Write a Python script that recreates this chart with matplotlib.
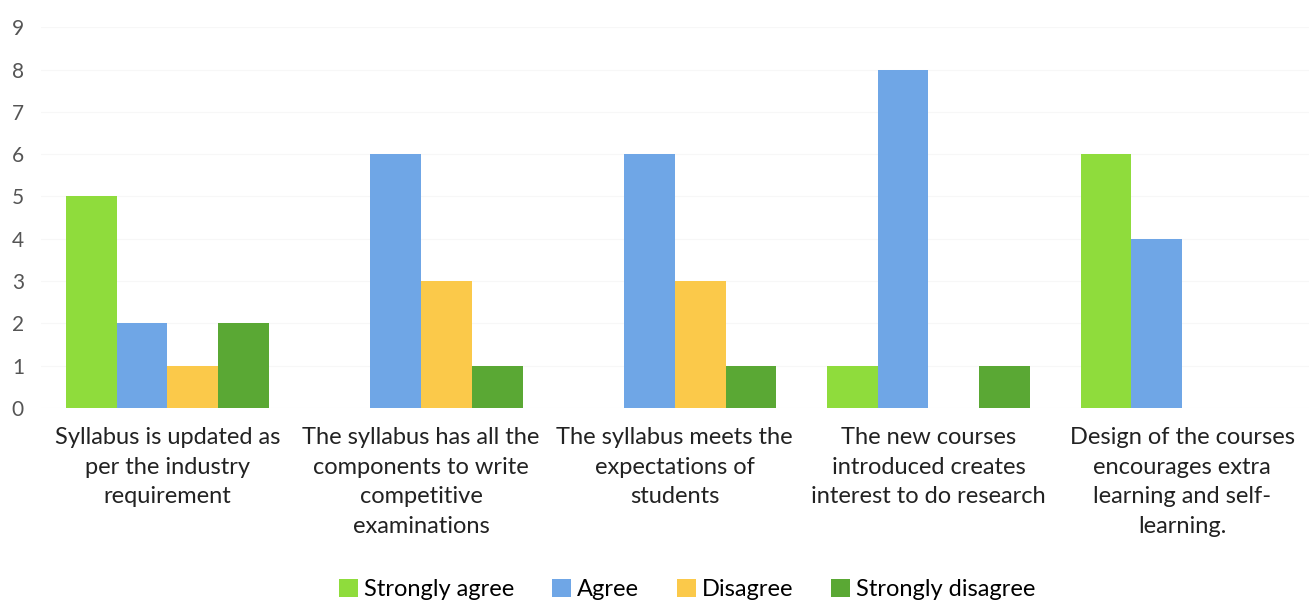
import matplotlib.pyplot as plt
import numpy as np

plt.rcParams['font.family'] = ['Lato', 'DejaVu Sans']

# categories and responses
categorias = ['Syllabus is updated as\nper the industry\nrequirement',
              'The syllabus has all the\ncomponents to write\ncompetitive\nexaminations',
              'The syllabus meets the\nexpectations of\nstudents',
              'The new courses\nintroduced creates\ninterest to do research',
              'Design of the courses\nencourages extra\nlearning and self-\nlearning.']
series = ['Strongly agree', 'Agree', 'Disagree', 'Strongly disagree']
strongly_agree = [5, 0, 0, 1, 6]
agree = [2, 6, 6, 8, 4]
disagree = [1, 3, 3, 0, 0]
strongly_disagree = [2, 1, 1, 1, 0]
cores = ['#8fdc3c', '#6fa6e6', '#fbc94a', '#5aa834']

fig = plt.figure(figsize=(13.09, 6.06), dpi=100)
ax = fig.add_axes([0.031, 0.327, 0.969, 0.628])

x = np.arange(len(categorias))
w = 0.2
valores = [strongly_agree, agree, disagree, strongly_disagree]
for i, (nome, v) in enumerate(zip(series, valores)):
    ax.bar(x + (i - 1.5) * w, v, w, color=cores[i], label=nome)

ax.set_xlim(-0.5, len(categorias) - 0.5)
ax.set_ylim(0, 9)
ax.set_yticks(range(10))
ax.grid(axis='y', color='#f7f7f7', linewidth=0.8)
ax.set_axisbelow(True)
for s in ax.spines.values():
    s.set_visible(False)
ax.tick_params(axis='y', length=0, labelsize=15, labelcolor='#555555', pad=12)
ax.tick_params(axis='x', length=0, labelsize=17, labelcolor='#222222', pad=14)
ax.set_xticks(x)
ax.set_xticklabels(categorias, linespacing=1.5)

fig.legend(loc='lower center', bbox_to_anchor=(0.525, -0.025), ncol=4, frameon=False,
           fontsize=17, handlelength=0.8, handleheight=0.8, handletextpad=0.25,
           columnspacing=1.6)

fig.savefig('out.png')
